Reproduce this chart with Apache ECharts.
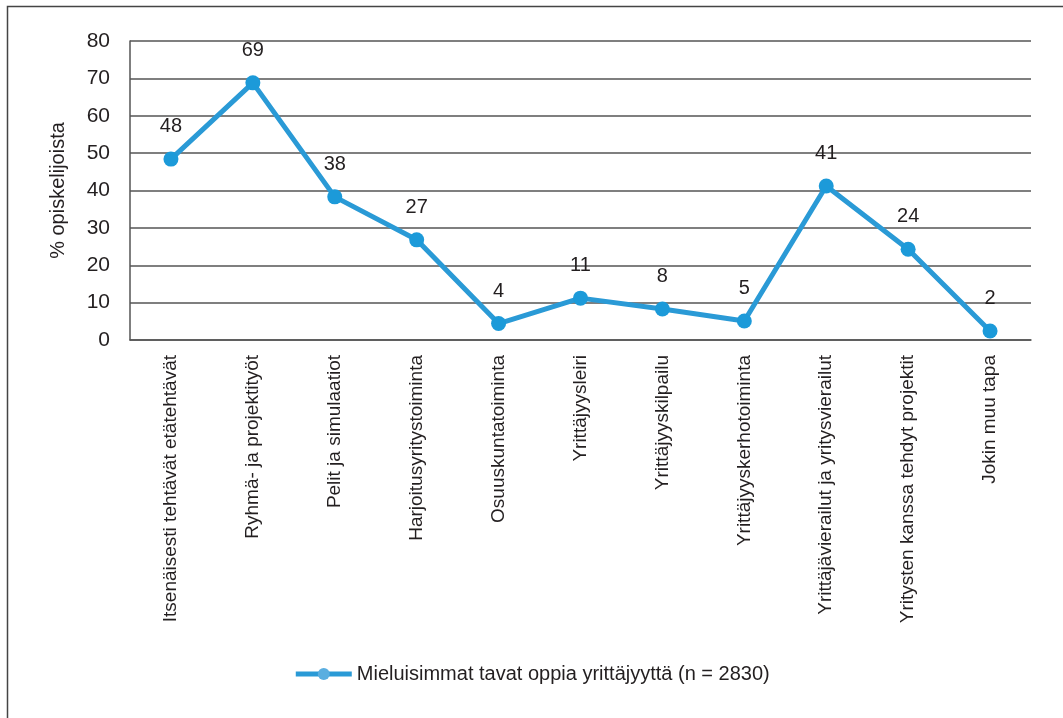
<!DOCTYPE html>
<html>
<head>
<meta charset="utf-8">
<script src="https://cdn.jsdelivr.net/npm/echarts@6/dist/echarts.min.js"></script>
<style>
  html, body { margin: 0; padding: 0; background: #fff; }
  #chart { width: 1063px; height: 718px; }
</style>
</head>
<body>
<div id="chart"></div>
<script>
const categories = [
  'Itsenäisesti tehtävät etätehtävät',
  'Ryhmä- ja projektityöt',
  'Pelit ja simulaatiot',
  'Harjoitusyritystoiminta',
  'Osuuskuntatoiminta',
  'Yrittäjyysleiri',
  'Yrittäjyyskilpailu',
  'Yrittäjyyskerhotoiminta',
  'Yrittäjävierailut ja yritysvierailut',
  'Yritysten kanssa tehdyt projektit',
  'Jokin muu tapa'
]
const values = [48.4, 68.8, 38.3, 26.8, 4.4, 11.2, 8.3, 5.1, 41.2, 24.3, 2.4]
const seriesName = 'Mieluisimmat tavat oppia yrittäjyyttä (n = 2830)'
const yTitle = '% opiskelijoista'

const font = "'Liberation Sans Narrow', 'Arial Narrow', 'Liberation Sans', Arial, sans-serif"
const ink = '#231f20'
const gridColor = '#555'
const blue = '#2a9ad6'

const chart = echarts.init(document.getElementById('chart'))

chart.setOption({
  backgroundColor: '#fff',
  textStyle: { fontFamily: font, color: ink },
  graphic: [{
    type: 'rect',
    shape: { x: 7.5, y: 6.5, width: 1100, height: 800 },
    style: { fill: 'none', stroke: '#444', lineWidth: 1.5 },
    silent: true,
    z: -1
  }],
  grid: { left: 130, right: 32, top: 41, bottom: 378 },
  legend: {
    bottom: 29,
    left: 'center',
    itemWidth: 56,
    itemHeight: 15,
    itemGap: 9,
    lineStyle: { width: 5, color: blue },
    itemStyle: { color: '#5aaee0' },
    textStyle: { fontFamily: font, fontSize: 20, color: ink },
    data: [seriesName]
  },
  xAxis: {
    type: 'category',
    data: categories,
    boundaryGap: true,
    axisLine: { show: true, lineStyle: { color: gridColor, width: 1.5 } },
    axisTick: { show: false },
    axisLabel: {
      interval: 0,
      rotate: 90,
      margin: 15,
      fontFamily: font,
      fontSize: 19,
      color: ink
    }
  },
  yAxis: {
    type: 'value',
    min: 0,
    max: 80,
    interval: 10,
    name: yTitle,
    nameLocation: 'middle',
    nameGap: 62,
    nameRotate: 90,
    nameTextStyle: { fontFamily: font, fontSize: 20, color: ink },
    axisLine: { show: true, lineStyle: { color: gridColor, width: 1.5 } },
    axisTick: { show: false },
    axisLabel: { margin: 20, fontFamily: font, fontSize: 21, color: ink },
    splitLine: { show: true, lineStyle: { color: gridColor, width: 1.5 } }
  },
  series: [{
    name: seriesName,
    type: 'line',
    data: values,
    symbol: 'circle',
    symbolSize: 15,
    lineStyle: { color: blue, width: 5 },
    itemStyle: { color: '#1c9ad9' },
    label: {
      show: true,
      position: 'top',
      distance: 15,
      fontFamily: font,
      fontSize: 20,
      color: ink,
      formatter: p => Math.round(p.value)
    },
    animation: false
  }]
})
</script>
</body>
</html>
